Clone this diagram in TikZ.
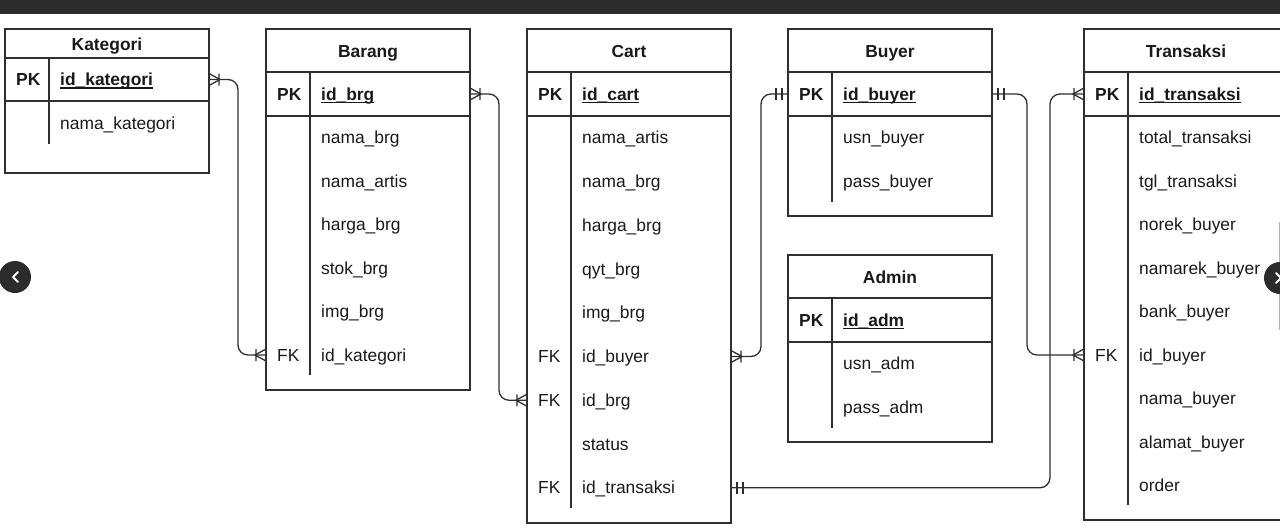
\documentclass[tikz,border=0pt]{standalone}
\usepackage{fontspec}
\setmainfont{Liberation Sans}
\usetikzlibrary{calc}
\definecolor{erline}{HTML}{2F2F2F}
\definecolor{uibar}{HTML}{2B2B2B}
\newcommand{\erfont}{\fontsize{17.4}{21}\selectfont}
\newcommand{\keyname}[1]{\setbox0\hbox{#1}\rlap{\rule[-3.2pt]{\wd0}{1.4pt}}\box0}
\tikzset{tbl/.style={draw=erline, line width=1.3pt, inner sep=0, outer sep=0, anchor=north west, minimum width=204},
  tblline/.style={draw=erline, line width=1.3pt},
  title/.style={font=\erfont\bfseries, text=black!90, inner sep=0, text height=12.5, text depth=0.5},
  keycol/.style={anchor=west, font=\erfont, text=black!90, inner sep=0, text height=12.5, text depth=0.5},
  pkkey/.style={keycol, font=\erfont\bfseries},
  field/.style={keycol},
  rel/.style={draw=erline, line width=1.3pt, rounded corners=10pt},
  crow/.pic={\draw[erline, line width=1.3pt] (0,-6) -- (-11,0) -- (0,6) (-10,-6) -- (-10,6);},
  mandatory/.pic={\draw[erline, line width=1.3pt] (-6,-6) -- (-6,6) (-12,-6) -- (-12,6);}}
\begin{document}
\begin{tikzpicture}[x=1pt,y=-1pt]
  \useasboundingbox (0,0) rectangle (1280,530);
  \clip (0,0) rectangle (1280,530);
  \fill[uibar] (0,0) rectangle (1280,13.5);
  % tables
  \foreach \n/\x/\top/\hd/\pk/\bot/\dv/\ty/\lab/\plab in {
    kategori/5/29/58/101/173/144/44/Kategori/id\_kategori,
    barang/266/29/72/116/390/375/51/Barang/id\_brg,
    cart/527/29/72/116/523/508/51/Cart/id\_cart,
    buyer/788/29/72/116/216/202/51/Buyer/id\_buyer,
    admin/788/255/298/342/442/428/277/Admin/id\_adm,
    transaksi/1084/29/72/116/520/505/51/Transaksi/id\_transaksi%
  } {
    \node[tbl, minimum height={\bot-\top}] (\n) at (\x,\top) {};
    \draw[tblline] (\x,\hd) -- ++(204,0) (\x,\pk) -- ++(204,0) ({\x+44},\hd) -- ({\x+44},\dv);
    \node[title] (\n-title) at ({\x+102},\ty) {\lab};
    \node[pkkey] (\n-pkk) at ({\x+11},{(\hd+\pk)/2}) {PK};
    \node[pkkey] (\n-pk) at ({\x+55},{(\hd+\pk)/2}) {\keyname{\plab}};
  }
  % fields
  \foreach \n/\lab [count=\i] in {nama/nama\_kategori}
    \node[field] (kategori-\n) at (60,79.5+43.5*\i) {\lab};
  \foreach \n/\lab [count=\i] in {nama/nama\_brg, artis/nama\_artis, harga/harga\_brg,
      stok/stok\_brg, img/img\_brg, idkat/id\_kategori}
    \node[field] (barang-\n) at (321,94+43.5*\i) {\lab};
  \foreach \n/\lab [count=\i] in {artis/nama\_artis, nama/nama\_brg, harga/harga\_brg,
      qyt/qyt\_brg, img/img\_brg, idbuyer/id\_buyer, idbrg/id\_brg, status/status,
      idtrans/id\_transaksi}
    \node[field] (cart-\n) at (582,94+43.75*\i) {\lab};
  \foreach \n/\lab [count=\i] in {usn/usn\_buyer, pass/pass\_buyer}
    \node[field] (buyer-\n) at (843,94+43.5*\i) {\lab};
  \foreach \n/\lab [count=\i] in {usn/usn\_adm, pass/pass\_adm}
    \node[field] (admin-\n) at (843,320+43.5*\i) {\lab};
  \foreach \n/\lab [count=\i] in {total/total\_transaksi, tgl/tgl\_transaksi,
      norek/norek\_buyer, namarek/namarek\_buyer, bank/bank\_buyer, idbuyer/id\_buyer,
      nama/nama\_buyer, alamat/alamat\_buyer, order/order}
    \node[field] (transaksi-\n) at (1139,94+43.5*\i) {\lab};
  \foreach \n/\t in {barang-idkat/barang, cart-idbuyer/cart, cart-idbrg/cart,
      cart-idtrans/cart, transaksi-idbuyer/transaksi}
    \node[keycol, xshift=11] (\n-fk) at (\t.west |- \n) {FK};
  % relations
  \draw[rel] (kategori.east |- kategori-pk) -- ++(29,0) |- (barang.west |- barang-idkat);
  \draw[rel] (barang.east |- barang-pk) -- ++(29,0) |- (cart.west |- cart-idbrg);
  \draw[rel] (cart.east |- cart-idbuyer) -- ++(30,0) |- (buyer.west |- buyer-pk);
  \draw[rel] (buyer.east |- buyer-pk) -- ++(35,0) |- (transaksi.west |- transaksi-idbuyer);
  \draw[rel] (cart.east |- cart-idtrans) -- ++(319,0) |- (transaksi.west |- transaksi-pk);
  \pic[xscale=-1] at (kategori.east |- kategori-pk) {crow};
  \pic at (barang.west |- barang-idkat) {crow};
  \pic[xscale=-1] at (barang.east |- barang-pk) {crow};
  \pic at (cart.west |- cart-idbrg) {crow};
  \pic[xscale=-1] at (cart.east |- cart-idbuyer) {crow};
  \pic at (buyer.west |- buyer-pk) {mandatory};
  \pic[xscale=-1] at (buyer.east |- buyer-pk) {mandatory};
  \pic at (transaksi.west |- transaksi-idbuyer) {crow};
  \pic[xscale=-1] at (cart.east |- cart-idtrans) {mandatory};
  \pic at (transaksi.west |- transaksi-pk) {crow};
  % slider buttons
  \node[circle, fill=uibar, minimum size=32, inner sep=0] (prev) at (15,277) {};
  \draw[white, line width=2pt, line cap=round, line join=round] ($(prev)+(3,-5)$) -- ++(-5,5) -- ++(5,5);
  \draw[gray!60, line width=1pt] (1279.5,222) -- (1279.5,330);
  \node[circle, fill=uibar, minimum size=32, inner sep=0] (next) at (1280,278) {};
  \draw[white, line width=2pt, line cap=round, line join=round] ($(next)+(-4,-5)$) -- ++(5,5) -- ++(-5,5);
\end{tikzpicture}
\end{document}
